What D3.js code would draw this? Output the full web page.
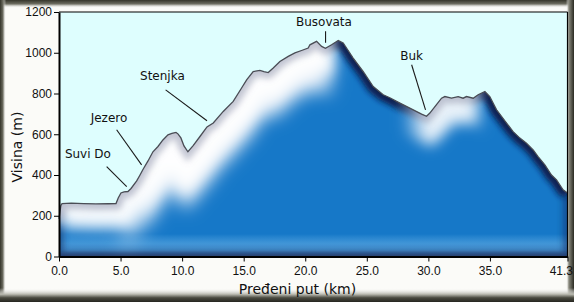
<!DOCTYPE html>
<html><head><meta charset="utf-8">
<script src="https://cdn.jsdelivr.net/npm/d3@7"></script>
<style>html,body{margin:0;padding:0;background:#fff;} svg{display:block}</style>
</head><body>
<svg id="chart" width="574" height="302"></svg>
<script>
// ---- data ----
const distanceKm = [0,0.15,0.25,1,2,3,4,4.63,4.81,5.03,5.28,5.6,5.85,6.31,6.58,6.82,7.23,7.63,8.04,8.44,8.85,9.17,9.5,9.66,9.9,10.15,10.47,10.88,11.45,12.02,12.53,13.34,14.15,14.83,15.24,15.77,16.32,16.64,16.99,17.4,17.94,18.62,19.16,19.7,20.24,20.38,20.92,21.33,21.64,22.14,22.68,23.08,23.89,24.7,25.52,26.33,26.87,27.69,28.77,29.45,29.85,30.12,30.66,31.07,31.34,31.88,32.42,32.82,33.1,33.64,34.04,34.59,34.99,35.54,36.35,36.88,37.43,37.97,38.51,38.91,39.46,40.0,40.41,40.94,41.3];
const elevationM = [185,250,260,262,260,258,259,260,287,312,317,319,334,371,400,427,469,514,540,572,597,604,609,602,582,543,514,543,589,636,655,712,761,827,867,908,913,907,903,925,957,982,999,1011,1023,1039,1056,1031,1022,1039,1060,1048,974,908,834,794,779,753,720,699,688,704,745,777,785,777,785,777,785,777,794,810,785,720,655,613,581,556,523,490,450,400,376,327,312];
const yTicks = [0,200,400,600,800,1000,1200];
const xTicks = [0,5,10,15,20,25,30,35,41.3];
const placeNames = ["Suvi Do","Jezero","Stenjka","Busovata","Buk"];
const labelKm = [2.35,4.06,8.4,21.52,28.64];
const labelM = [483,659,867,1133,966];
const pointerFromKm = [3.87,4.68,8.66,21.65,28.64];
const pointerFromM = [441,622,818,1105,941];
const pointerToKm = [5.5,6.71,12.02,21.65,29.77];
const pointerToM = [343,450,666,1049,720];
const xTitle = "Pređeni put (km)";
const yTitle = "Visina (m)";

// ---- chart ----
const W = 574, H = 302;
const svg = d3.select("#chart");
const x = d3.scaleLinear().domain([0, 41.3]).range([59, 567.5]);
const y = d3.scaleLinear().domain([0, 1200]).range([256.5, 12]);
const pts = distanceKm.map((d, i) => [d, elevationM[i]]);
const area = d3.area().x(d => x(d[0])).y0(y(0)).y1(d => y(d[1]));
const line = d3.line().x(d => x(d[0])).y(d => y(d[1]));

const defs = svg.append("defs");
function blur(id, sd) {
  defs.append("filter").attr("id", id).attr("filterUnits", "userSpaceOnUse")
    .attr("x", 0).attr("y", 0).attr("width", W).attr("height", H)
    .append("feGaussianBlur").attr("stdDeviation", sd);
}
blur("b3", 3); blur("b7", 7); blur("b9", 9);
defs.append("clipPath").attr("id", "areaClip").append("path").attr("d", area(pts));

function grad(id, horiz, stops, a, b) {
  const g = defs.append("linearGradient").attr("id", id).attr("gradientUnits", "userSpaceOnUse")
    .attr("x1", horiz ? a : 0).attr("x2", horiz ? b : 0)
    .attr("y1", horiz ? 0 : a).attr("y2", horiz ? 0 : b);
  stops.forEach(s => g.append("stop").attr("offset", s[0]).attr("stop-color", s[1]).attr("stop-opacity", s[2] == null ? 1 : s[2]));
}
const X0 = x(0), X1 = x(41.3), span = X1 - X0;
const f = km => (x(km) - X0) / span;
grad("gloss", true, [[0,"#ffffff",0.95],[f(21.9),"#ffffff",0.95],[f(22.6),"#ffffff",0],[f(27.8),"#ffffff",0],[f(29.9),"#ffffff",0.9],[f(33.6),"#ffffff",0.9],[f(34.5),"#ffffff",0],[1,"#ffffff",0]], X0, X1);
grad("gloss2", true, [[0,"#f4f7fb",0],[f(4.5),"#f4f7fb",0],[f(7.5),"#f4f7fb",0.95],[f(21.6),"#f4f7fb",0.95],[f(22.4),"#f4f7fb",0],[1,"#f4f7fb",0]], X0, X1);
grad("edge", true, [[0,"#8a90a8",0.5],[f(22.0),"#8a90a8",0.5],[f(22.8),"#0c1f4d",1],[f(27.4),"#0c1f4d",1],[f(29.3),"#8a90a8",0.45],[f(33.7),"#8a90a8",0.45],[f(34.7),"#0c1f4d",1],[1,"#0c1f4d",1]], X0, X1);
grad("bottom", false, [[0,"#55a5e0",0],[0.4,"#4b9cda",0.8],[0.7,"#4a8fcc",0.9],[1,"#34486e",1]], 234, 257);
grad("fTop", false, [[0,"#34342a",1],[0.5,"#6e6e62",1],[1,"#ffffff",0]], 0, 8);
grad("fLeft", true, [[0,"#34342a",1],[0.5,"#6e6e62",1],[1,"#ffffff",0]], 0, 6);
grad("fRight", true, [[0,"#ffffff",0],[0.35,"#8a8a7e",1],[1,"#2a2a22",1]], 566, 574);
grad("fBottom", false, [[0,"#ffffff",0],[0.45,"#b8b8ae",1],[0.7,"#4a4a40",1],[1,"#262620",1]], 288, 302);

svg.append("rect").attr("width", W).attr("height", H).attr("fill", "#fbfbf8");
svg.append("rect").attr("x", 0).attr("y", 0).attr("width", W).attr("height", 8).attr("fill", "url(#fTop)");
svg.append("rect").attr("x", 0).attr("y", 0).attr("width", 6).attr("height", H).attr("fill", "url(#fLeft)");
svg.append("rect").attr("x", 566).attr("y", 0).attr("width", 8).attr("height", H).attr("fill", "url(#fRight)");
svg.append("rect").attr("x", 0).attr("y", 288).attr("width", W).attr("height", 14).attr("fill", "url(#fBottom)");

svg.append("rect").attr("x", X0).attr("y", y(1200)).attr("width", span).attr("height", y(0) - y(1200)).attr("fill", "#defefe");

const g = svg.append("g").attr("clip-path", "url(#areaClip)");
g.append("path").attr("d", area(pts)).attr("fill", "#1678c8");
g.append("rect").attr("x", X0).attr("y", 234).attr("width", span).attr("height", 24).attr("fill", "url(#bottom)");
g.append("path").attr("d", area(pts)).attr("fill", "none").attr("stroke", "#17306a").attr("stroke-width", 9).attr("opacity", 0.6).attr("filter", "url(#b3)");
g.append("path").attr("d", line(pts)).attr("transform", "translate(0,20)").attr("fill", "none").attr("stroke", "url(#gloss2)").attr("stroke-width", 46).attr("filter", "url(#b9)");
g.append("path").attr("d", line(pts)).attr("fill", "none").attr("stroke", "url(#gloss)").attr("stroke-width", 50).attr("filter", "url(#b7)");
g.append("path").attr("d", line(pts)).attr("fill", "none").attr("stroke", "url(#edge)").attr("stroke-width", 12).attr("filter", "url(#b3)");
svg.append("path").attr("d", line(pts)).attr("fill", "none").attr("stroke", "#4a4d55").attr("stroke-width", 1.3);

svg.append("line").attr("x1", X0).attr("x2", X1).attr("y1", y(1200)).attr("y2", y(1200)).attr("stroke", "#000").attr("stroke-width", 1);
svg.append("line").attr("x1", X1).attr("x2", X1).attr("y1", y(1200)).attr("y2", y(0)).attr("stroke", "#000").attr("stroke-width", 1.2);

const tickFont = "'Liberation Sans', Arial, sans-serif";
const gx = svg.append("g").attr("transform", `translate(0,${y(0)})`)
  .call(d3.axisBottom(x).tickValues(xTicks).tickFormat(d3.format(".1f")).tickSize(5).tickSizeOuter(0).tickPadding(5));
gx.select(".domain").attr("stroke-width", 2);
gx.selectAll("text").attr("font-family", tickFont).attr("font-size", 12).attr("fill", "#111");
gx.selectAll(".tick").filter(d => d === 41.3).select("text").attr("text-anchor", "end").attr("dx", 5);
const gy = svg.append("g").attr("transform", `translate(${X0},0)`)
  .call(d3.axisLeft(y).tickValues(yTicks).tickFormat(d3.format("d")).tickSize(5).tickSizeOuter(0).tickPadding(2));
gy.select(".domain").attr("stroke-width", 2);
gy.selectAll("text").attr("font-family", tickFont).attr("font-size", 12).attr("fill", "#111");

const titleFont = "'DejaVu Sans', Verdana, sans-serif";
svg.append("text").attr("x", 297.5).attr("y", 294).attr("text-anchor", "middle")
  .attr("font-family", titleFont).attr("font-size", 14).attr("fill", "#111").text(xTitle);
svg.append("text").attr("transform", "translate(22,147) rotate(-90)").attr("text-anchor", "middle")
  .attr("font-family", titleFont).attr("font-size", 14).attr("fill", "#111").text(yTitle);

placeNames.forEach((name, i) => {
  svg.append("line").attr("x1", x(pointerFromKm[i])).attr("y1", y(pointerFromM[i]))
    .attr("x2", x(pointerToKm[i])).attr("y2", y(pointerToM[i])).attr("stroke", "#1a1a1a").attr("stroke-width", 1.1);
  svg.append("text").attr("x", x(labelKm[i])).attr("y", y(labelM[i])).attr("text-anchor", "middle")
    .attr("font-family", titleFont).attr("font-size", 12).attr("fill", "#111").text(name);
});
</script>
</body></html>
